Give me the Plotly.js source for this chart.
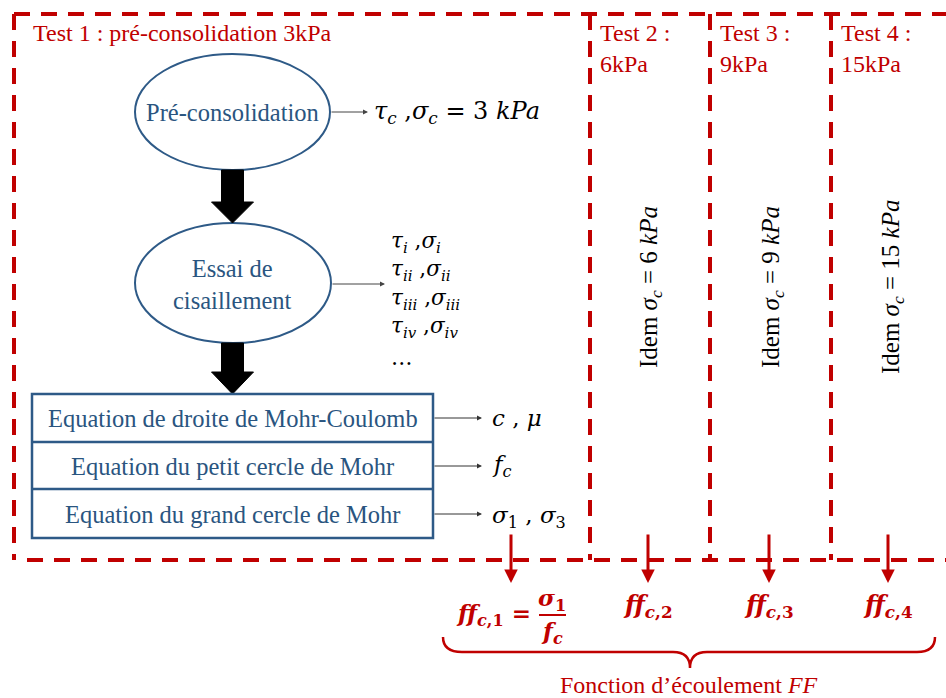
<!DOCTYPE html>
<html>
<head>
<meta charset="utf-8">
<script src="https://cdn.plot.ly/plotly-3.0.1.min.js"></script>
<style>html,body{margin:0;padding:0;background:#fff;}#chart{width:946px;height:698px;}</style>
</head>
<body>
<div id="chart"></div>
<script>
// ---- content ----
var testTitles = ["Test 1 : pré-consolidation 3kPa", "Test 2 :<br>6kPa", "Test 3 :<br>9kPa", "Test 4 :<br>15kPa"];
var testPressures = [3, 6, 9, 15];
var ellipseLabels = ["Pré-consolidation", "Essai de<br>cisaillement"];
var boxLabels = ["Equation de droite de Mohr-Coulomb", "Equation du petit cercle de Mohr", "Equation du grand cercle de Mohr"];
var boxOutputs = ["<i>c</i> , <i>μ</i>", "<i>f</i><sub><i>c</i></sub>", "<i>σ</i><sub>1</sub> , <i>σ</i><sub>3</sub>"];
var shearOutputs = ["<i>τ</i><sub><i>i</i></sub> ,<i>σ</i><sub><i>i</i></sub>",
                    "<i>τ</i><sub><i>ii</i></sub> ,<i>σ</i><sub><i>ii</i></sub>",
                    "<i>τ</i><sub><i>iii</i></sub> ,<i>σ</i><sub><i>iii</i></sub>",
                    "<i>τ</i><sub><i>iv</i></sub> ,<i>σ</i><sub><i>iv</i></sub>",
                    "…"];
var ffLabels = ["<b><i>ff</i></b><sub><b><i>c</i>,1</b></sub><b> =</b>", "<b><i>ff</i></b><sub><b><i>c</i>,2</b></sub>", "<b><i>ff</i></b><sub><b><i>c</i>,3</b></sub>", "<b><i>ff</i></b><sub><b><i>c</i>,4</b></sub>"];
var footerLabel = "Fonction d’écoulement <i>FF</i>";

// ---- style/layout constants ----
var RED = "#C00000", BLUE = "#2E5A87", DARK = "#2A5580";
var SERIF = "Liberation Serif, Times New Roman, serif";
var MATH = "DejaVu Serif, serif";
var dash = "16px,11px";
var frameTop = 14, frameBottom = 560, frameLeft = 14, frameRight = 946;
var dividers = [590, 710, 831];
var colCenters = [511, 648, 769, 888];
var cx = 232.5;

var shapes = [];
var ann = [];
function line(x0,y0,x1,y1,color,w,d){shapes.push({type:'line',xref:'x',yref:'y',x0:x0,y0:y0,x1:x1,y1:y1,line:{color:color,width:w,dash:d||'solid'}});}
function text(x,y,t,size,color,font,xa,ya,extra){var a={x:x,y:y,xref:'x',yref:'y',text:t,showarrow:false,xanchor:xa||'center',yanchor:ya||'middle',font:{size:size,color:color,family:font}};if(extra){for(var k in extra)a[k]=extra[k];}ann.push(a);}
function arrow(x0,y0,x1,y1,color,w,head,size){ann.push({x:x1,y:y1,ax:x0,ay:y0,xref:'x',yref:'y',axref:'x',ayref:'y',text:'',showarrow:true,arrowcolor:color,arrowwidth:w,arrowhead:head,arrowsize:size||1,standoff:0,startstandoff:0});}

// dashed frame
line(frameLeft, frameTop, frameRight, frameTop, RED, 4, dash);
line(frameLeft, frameTop, frameLeft, frameBottom, RED, 4, dash);
line(frameLeft+13, frameBottom, frameRight, frameBottom, RED, 4, dash);
dividers.forEach(function(x){ line(x, frameTop, x, frameBottom, RED, 4, dash); });

// test titles
text(31, 33, testTitles[0], 24, RED, SERIF, 'left', 'middle');
[598, 718, 839].forEach(function(x,i){ text(x, 48, testTitles[i+1], 24, RED, SERIF, 'left', 'middle', {align:'left'}); });

// ellipses
shapes.push({type:'circle',xref:'x',yref:'y',x0:135,x1:330,y0:54,y1:170,line:{color:BLUE,width:2},fillcolor:'rgba(0,0,0,0)'});
shapes.push({type:'circle',xref:'x',yref:'y',x0:135,x1:331,y0:223,y1:343,line:{color:BLUE,width:2},fillcolor:'rgba(0,0,0,0)'});
text(cx, 112, ellipseLabels[0], 24.5, DARK, SERIF);
text(cx, 284, ellipseLabels[1], 24.5, DARK, SERIF, 'center', 'middle', {align:'center'});

// big black arrows
function bigArrow(yTop, yHeadStart, yTip){
  shapes.push({type:'path',xref:'x',yref:'y',fillcolor:'#000',line:{color:'#000',width:1},
    path:'M '+(cx-11)+' '+yTop+' L '+(cx+11)+' '+yTop+' L '+(cx+11)+' '+yHeadStart+' L '+(cx+21)+' '+yHeadStart+' L '+cx+' '+yTip+' L '+(cx-21)+' '+yHeadStart+' L '+(cx-11)+' '+yHeadStart+' Z'});
}
bigArrow(170, 202, 223);
bigArrow(343, 372, 394);

// thin arrows + outputs
arrow(330, 112, 368, 112, '#444', 1, 2, 1);
text(372, 112, "<i>τ</i><sub><i>c</i></sub> ,<i>σ</i><sub><i>c</i></sub> = 3 <i>kPa</i>".replace("3", String(testPressures[0])), 24, '#000', MATH, 'left', 'middle');
arrow(331, 284, 385, 284, '#444', 1, 2, 1);
var shearY = [242, 270, 299, 327, 357];
shearOutputs.forEach(function(t,i){ text(389, shearY[i], t, 21.5, '#000', MATH, 'left', 'middle'); });

// boxes
var rowEdges = [394, 442, 489, 538];
shapes.push({type:'rect',xref:'x',yref:'y',x0:32,x1:433,y0:rowEdges[0],y1:rowEdges[3],line:{color:BLUE,width:2.5},fillcolor:'rgba(0,0,0,0)'});
line(32, rowEdges[1], 433, rowEdges[1], BLUE, 2.5);
line(32, rowEdges[2], 433, rowEdges[2], BLUE, 2.5);
var rowY = [418, 466, 514];
boxLabels.forEach(function(t,i){
  text(cx, rowY[i], t, 24.5, DARK, SERIF);
  arrow(433, rowY[i], 482, rowY[i], '#333', 1, 2, 1);
  text(490, rowY[i] + (i==2?3:0), boxOutputs[i], 23, '#000', MATH, 'left', 'middle');
});

// vertical "Idem" texts
var idemX = [650, 772, 892];
var idemY = [287, 287, 287];
idemX.forEach(function(x,i){
  text(x, idemY[i], "Idem <i>σ</i><sub><i>c</i></sub> = " + testPressures[i+1] + " <i>kPa</i>", 25, '#000', SERIF, 'center', 'middle', {textangle:-90});
});

// red down arrows
colCenters.forEach(function(x){ arrow(x, 533, x, 583, RED, 3, 2, 0.9); });

// ff labels
text(493, 614, ffLabels[0], 23, RED, MATH, 'center', 'middle');
text(552, 599, "<b><i>σ</i></b><sub><b>1</b></sub>", 23, RED, MATH, 'center', 'middle');
line(539, 615, 566, 615, RED, 2);
text(552, 632, "<b><i>f</i></b><sub><b><i>c</i></b></sub>", 23, RED, MATH, 'center', 'middle');
[648, 769, 888].forEach(function(x,i){ text(x, 606, ffLabels[i+1], 24, RED, MATH, 'center', 'middle'); });

// brace
shapes.push({type:'path',xref:'x',yref:'y',line:{color:RED,width:2.5},fillcolor:'rgba(0,0,0,0)',
  path:'M 443 637 Q 443 652 462 652 L 673 652 Q 690 652 690 668 Q 690 652 707 652 L 917 652 Q 935 652 935 637'});
text(689, 685, footerLabel, 24, RED, SERIF);

var layout = {
  width: 946, height: 698,
  margin: {l:0, r:0, t:0, b:0},
  paper_bgcolor: '#fff', plot_bgcolor: '#fff',
  xaxis: {range:[0,946], visible:false, fixedrange:true},
  yaxis: {range:[698,0], visible:false, fixedrange:true},
  shapes: shapes,
  annotations: ann,
  showlegend: false
};
Plotly.newPlot('chart', [], layout, {staticPlot:true, displayModeBar:false});
</script>
</body>
</html>
